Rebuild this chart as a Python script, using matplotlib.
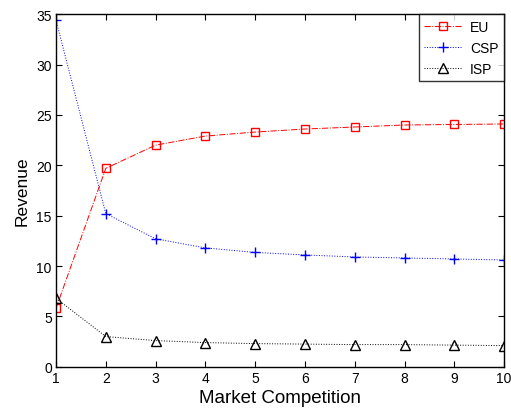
import numpy as np
import matplotlib
matplotlib.use('Agg')
import matplotlib.pyplot as plt

plt.rcParams['font.family'] = ['Liberation Sans', 'DejaVu Sans']

# Data
competition = [1, 2, 3, 4, 5, 6, 7, 8, 9, 10]
eu = [5.8, 19.7, 22.0, 22.9, 23.3, 23.6, 23.8, 24.0, 24.05, 24.1]
csp = [34.4, 15.2, 12.7, 11.8, 11.35, 11.1, 10.9, 10.8, 10.7, 10.6]
isp = [6.8, 3.0, 2.6, 2.4, 2.3, 2.25, 2.2, 2.2, 2.15, 2.1]

fig = plt.figure(figsize=(5.11, 4.10), dpi=100)
ax = fig.add_axes([0.1096, 0.103, 0.877, 0.860])

ax.plot(competition, eu, color='red', linestyle='-.', linewidth=0.7,
        marker='s', markersize=5.5, markerfacecolor='none', markeredgecolor='red', label='EU')
ax.plot(competition, csp, color='blue', linestyle=':', linewidth=0.7,
        marker='+', markersize=7, markeredgewidth=1.0, label='CSP')
ax.plot(competition, isp, color='black', linestyle=':', linewidth=0.7,
        marker='^', markersize=6.5, markerfacecolor='none', markeredgecolor='black', label='ISP')

# Formatting
ax.set_xlim([1, 10])
ax.set_ylim([0, 35])
ax.set_xticks(competition)
ax.set_yticks(np.arange(0, 36, 5))
ax.tick_params(direction='in', top=True, right=True, labelsize=10, length=4, pad=3)
for spine in ax.spines.values():
    spine.set_linewidth(1.0)
ax.set_xlabel('Market Competition', fontsize=13.5, labelpad=3)
ax.set_ylabel('Revenue', fontsize=12.5, labelpad=5)

leg = ax.legend(loc='upper right', bbox_to_anchor=(1.0, 1.0), borderaxespad=0,
                fancybox=False, edgecolor='black', fontsize=10,
                handlelength=2.7, handletextpad=0.6)
leg.get_frame().set_linewidth(1.0)

fig.savefig('out.png', dpi=100)
